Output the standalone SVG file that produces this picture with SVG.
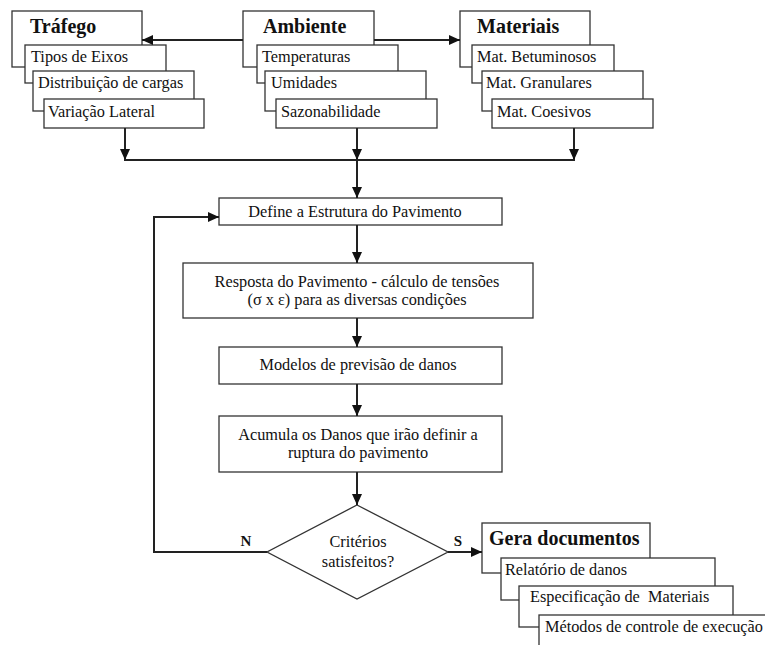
<svg xmlns="http://www.w3.org/2000/svg" width="765" height="645" viewBox="0 0 765 645">
<style>
.box{fill:#fff;stroke:#333;stroke-width:1.3}
.t{font-family:"Liberation Serif","Times New Roman",serif;font-size:16.3px;fill:#111;white-space:pre}
.h{font-family:"Liberation Serif","Times New Roman",serif;font-size:20px;font-weight:bold;fill:#111}
.c{text-anchor:middle}
.ln{fill:none;stroke:#222;stroke-width:2}
</style>
<defs>
<marker id="ah" markerUnits="userSpaceOnUse" markerWidth="11" markerHeight="10" refX="11" refY="5" orient="auto">
<path d="M0,0 L11,5 L0,10 z" fill="#111"/>
</marker>
</defs>
<rect width="765" height="645" fill="#fff"/>
<g id="trafego">
<rect class="box" x="12" y="11" width="130" height="56"/>
<text class="h" x="30" y="33">Tráfego</text>
<rect class="box" x="25" y="45" width="141" height="38"/>
<text class="t" x="31" y="62">Tipos de Eixos</text>
<rect class="box" x="33" y="71" width="161" height="40"/>
<text class="t" x="38" y="88">Distribuição de cargas</text>
<rect class="box" x="44" y="99" width="160" height="29"/>
<text class="t" x="48" y="117">Variação Lateral</text>
</g>
<g id="ambiente">
<rect class="box" x="243" y="11" width="131" height="56"/>
<text class="h" x="263" y="33">Ambiente</text>
<rect class="box" x="257" y="45" width="141" height="38"/>
<text class="t" x="262" y="62">Temperaturas</text>
<rect class="box" x="265" y="71" width="161" height="40"/>
<text class="t" x="271" y="88">Umidades</text>
<rect class="box" x="276" y="99" width="161" height="29"/>
<text class="t" x="281" y="117">Sazonabilidade</text>
</g>
<g id="materiais">
<rect class="box" x="460" y="11" width="130" height="56"/>
<text class="h" x="477" y="33">Materiais</text>
<rect class="box" x="472" y="45" width="142" height="38"/>
<text class="t" x="477" y="62">Mat. Betuminosos</text>
<rect class="box" x="482" y="71" width="161" height="40"/>
<text class="t" x="486" y="88">Mat. Granulares</text>
<rect class="box" x="492" y="99" width="161" height="29"/>
<text class="t" x="497" y="117">Mat. Coesivos</text>
</g>
<g id="define">
<rect class="box" x="219" y="198" width="283" height="27"/>
<text class="t c" x="355" y="217">Define a Estrutura do Pavimento</text>
</g>
<g id="resposta">
<rect class="box" x="183" y="263" width="350" height="55"/>
<text class="t c" x="357" y="287">Resposta do Pavimento - cálculo de tensões</text>
<text class="t c" x="357" y="305">(σ x ε) para as diversas condições</text>
</g>
<g id="modelos">
<rect class="box" x="219" y="347" width="283" height="37"/>
<text class="t c" x="358" y="370">Modelos de previsão de danos</text>
</g>
<g id="acumula">
<rect class="box" x="219" y="416" width="283" height="56"/>
<text class="t c" x="358" y="440">Acumula os Danos que irão definir a</text>
<text class="t c" x="358" y="458">ruptura do pavimento</text>
</g>
<g id="criterios">
<polygon class="box" points="357,505 448,552 357,599 267,552"/>
<text class="t c" x="358" y="547">Critérios</text>
<text class="t c" x="358" y="567">satisfeitos?</text>
</g>
<g id="gera">
<rect class="box" x="482" y="523" width="168" height="50"/>
<text class="h" x="489" y="545">Gera documentos</text>
<rect class="box" x="501" y="558" width="214" height="42"/>
<text class="t" x="505" y="575">Relatório de danos</text>
<rect class="box" x="519" y="586" width="214" height="41"/>
<text class="t" x="530" y="602">Especificação de  Materiais</text>
<rect class="box" x="539" y="615" width="240" height="40"/>
<text class="t" x="545" y="632">Métodos de controle de execução</text>
</g>
<g id="connectors">
<path class="ln" d="M243,40 H142" marker-end="url(#ah)"/>
<path class="ln" d="M374,40 H460" marker-end="url(#ah)"/>
<path class="ln" d="M125,128 V160" marker-end="url(#ah)"/>
<path class="ln" d="M357,128 V160" marker-end="url(#ah)"/>
<path class="ln" d="M574,128 V160" marker-end="url(#ah)"/>
<path class="ln" d="M124,160 H575"/>
<path class="ln" d="M357,160 V198" marker-end="url(#ah)"/>
<path class="ln" d="M357,225 V263" marker-end="url(#ah)"/>
<path class="ln" d="M357,318 V347" marker-end="url(#ah)"/>
<path class="ln" d="M357,384 V416" marker-end="url(#ah)"/>
<path class="ln" d="M357,472 V505" marker-end="url(#ah)"/>
<path class="ln" d="M267,552 H154 V217 H219" marker-end="url(#ah)"/>
<path class="ln" d="M448,552 H482" marker-end="url(#ah)"/>
<text class="h" x="246" y="546" style="font-size:15px" text-anchor="middle">N</text>
<text class="h" x="458" y="546" style="font-size:15px" text-anchor="middle">S</text>
</g>
</svg>
